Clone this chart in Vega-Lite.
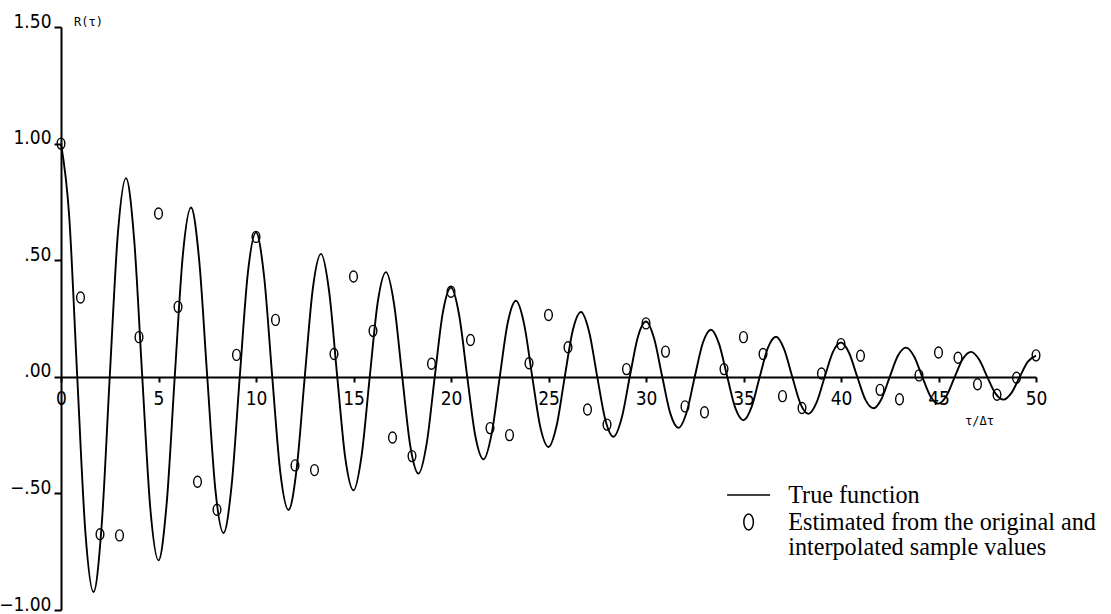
{
  "$schema": "https://vega.github.io/schema/vega-lite/v6.json",
  "autosize": {"type": "none"},
  "width": 975,
  "height": 583,
  "padding": {"left": 61, "top": 27, "right": 75, "bottom": 4},
  "background": "white",
  "config": {
    "view": {"stroke": null},
    "axis": {
      "grid": false,
      "domainColor": "black",
      "domainWidth": 2,
      "tickColor": "black",
      "tickWidth": 2,
      "labelColor": "black",
      "labelFont": "Liberation Sans Narrow, DejaVu Sans Condensed, DejaVu Sans Mono",
      "labelFontSize": 19,
      "labelFlush": false,
      "labelOverlap": false,
      "labelBound": false,
      "titleColor": "black",
      "titleFont": "DejaVu Sans Mono",
      "titleFontSize": 12,
      "titleFontWeight": "normal"
    }
  },
  "datasets": {
    "curve": [{"t":0,"r":1},{"t":0.417,"r":0.693},{"t":0.833,"r":0},{"t":1.25,"r":-0.666},{"t":1.667,"r":-0.923},{"t":2.083,"r":-0.64},{"t":2.5,"r":0},{"t":2.917,"r":0.615},{"t":3.333,"r":0.852},{"t":3.75,"r":0.591},{"t":4.167,"r":0},{"t":4.583,"r":-0.567},{"t":5,"r":-0.787},{"t":5.417,"r":-0.545},{"t":5.833,"r":0},{"t":6.25,"r":0.524},{"t":6.667,"r":0.726},{"t":7.083,"r":0.503},{"t":7.5,"r":0},{"t":7.917,"r":-0.484},{"t":8.333,"r":-0.67},{"t":8.75,"r":-0.465},{"t":9.167,"r":0},{"t":9.583,"r":0.446},{"t":10,"r":0.619},{"t":10.417,"r":0.429},{"t":10.833,"r":0},{"t":11.25,"r":-0.412},{"t":11.667,"r":-0.571},{"t":12.083,"r":-0.396},{"t":12.5,"r":0},{"t":12.917,"r":0.38},{"t":13.333,"r":0.527},{"t":13.75,"r":0.366},{"t":14.167,"r":0},{"t":14.583,"r":-0.351},{"t":15,"r":-0.487},{"t":15.417,"r":-0.337},{"t":15.833,"r":0},{"t":16.25,"r":0.324},{"t":16.667,"r":0.449},{"t":17.083,"r":0.311},{"t":17.5,"r":0},{"t":17.917,"r":-0.299},{"t":18.333,"r":-0.415},{"t":18.75,"r":-0.288},{"t":19.167,"r":0},{"t":19.583,"r":0.276},{"t":20,"r":0.383},{"t":20.417,"r":0.265},{"t":20.833,"r":0},{"t":21.25,"r":-0.255},{"t":21.667,"r":-0.354},{"t":22.083,"r":-0.245},{"t":22.5,"r":0},{"t":22.917,"r":0.235},{"t":23.333,"r":0.326},{"t":23.75,"r":0.226},{"t":24.167,"r":0},{"t":24.583,"r":-0.217},{"t":25,"r":-0.301},{"t":25.417,"r":-0.209},{"t":25.833,"r":0},{"t":26.25,"r":0.201},{"t":26.667,"r":0.278},{"t":27.083,"r":0.193},{"t":27.5,"r":0},{"t":27.917,"r":-0.185},{"t":28.333,"r":-0.257},{"t":28.75,"r":-0.178},{"t":29.167,"r":0},{"t":29.583,"r":0.171},{"t":30,"r":0.237},{"t":30.417,"r":0.164},{"t":30.833,"r":0},{"t":31.25,"r":-0.158},{"t":31.667,"r":-0.219},{"t":32.083,"r":-0.152},{"t":32.5,"r":0},{"t":32.917,"r":0.146},{"t":33.333,"r":0.202},{"t":33.75,"r":0.14},{"t":34.167,"r":0},{"t":34.583,"r":-0.134},{"t":35,"r":-0.186},{"t":35.417,"r":-0.129},{"t":35.833,"r":0},{"t":36.25,"r":0.124},{"t":36.667,"r":0.172},{"t":37.083,"r":0.119},{"t":37.5,"r":0},{"t":37.917,"r":-0.115},{"t":38.333,"r":-0.159},{"t":38.75,"r":-0.11},{"t":39.167,"r":0},{"t":39.583,"r":0.106},{"t":40,"r":0.147},{"t":40.417,"r":0.102},{"t":40.833,"r":0},{"t":41.25,"r":-0.098},{"t":41.667,"r":-0.135},{"t":42.083,"r":-0.094},{"t":42.5,"r":0},{"t":42.917,"r":0.09},{"t":43.333,"r":0.125},{"t":43.75,"r":0.087},{"t":44.167,"r":0},{"t":44.583,"r":-0.083},{"t":45,"r":-0.115},{"t":45.417,"r":-0.08},{"t":45.833,"r":0},{"t":46.25,"r":0.077},{"t":46.667,"r":0.107},{"t":47.083,"r":0.074},{"t":47.5,"r":0},{"t":47.917,"r":-0.071},{"t":48.333,"r":-0.098},{"t":48.75,"r":-0.068},{"t":49.167,"r":0},{"t":49.583,"r":0.065},{"t":50,"r":0.091}],
    "estimates": [{"t":0,"r":1.0},{"t":1,"r":0.34},{"t":2,"r":-0.675},{"t":3,"r":-0.68},{"t":4,"r":0.17},{"t":5,"r":0.7},{"t":6,"r":0.3},{"t":7,"r":-0.45},{"t":8,"r":-0.57},{"t":9,"r":0.094},{"t":10,"r":0.6},{"t":11,"r":0.244},{"t":12,"r":-0.38},{"t":13,"r":-0.4},{"t":14,"r":0.098},{"t":15,"r":0.43},{"t":16,"r":0.197},{"t":17,"r":-0.26},{"t":18,"r":-0.34},{"t":19,"r":0.056},{"t":20,"r":0.365},{"t":21,"r":0.158},{"t":22,"r":-0.22},{"t":23,"r":-0.25},{"t":24,"r":0.058},{"t":25,"r":0.265},{"t":26,"r":0.127},{"t":27,"r":-0.14},{"t":28,"r":-0.205},{"t":29,"r":0.033},{"t":30,"r":0.229},{"t":31,"r":0.108},{"t":32,"r":-0.127},{"t":33,"r":-0.152},{"t":34,"r":0.033},{"t":35,"r":0.17},{"t":36,"r":0.098},{"t":37,"r":-0.083},{"t":38,"r":-0.134},{"t":39,"r":0.014},{"t":40,"r":0.14},{"t":41,"r":0.09},{"t":42,"r":-0.056},{"t":43,"r":-0.096},{"t":44,"r":0.006},{"t":45,"r":0.104},{"t":46,"r":0.082},{"t":47,"r":-0.032},{"t":48,"r":-0.077},{"t":49,"r":-0.004},{"t":50,"r":0.092}]
  },
  "encoding": {
    "x": {
      "field": "t",
      "type": "quantitative",
      "scale": {"domain": [0, 50], "nice": false, "zero": false},
      "axis": {
        "values": [0, 5, 10, 15, 20, 25, 30, 35, 40, 45, 50],
        "format": "d",
        "offset": -233,
        "tickSize": 5,
        "labelPadding": 7,
        "title": "τ/Δτ",
        "titleX": 918,
        "titleY": 43,
        "titleAlign": "center",
        "titleBaseline": "middle"
      }
    },
    "y": {
      "field": "r",
      "type": "quantitative",
      "scale": {"domain": [-1, 1.5], "nice": false, "zero": false},
      "axis": {
        "values": [-1, -0.5, 0, 0.5, 1, 1.5],
        "labelExpr": "replace(format(datum.value, '.2f'), '0.', '.')",
        "tickSize": 7,
        "labelPadding": 3,
        "labelBaseline": "alphabetic",
        "title": "R(τ)",
        "titleAngle": 0,
        "titleX": 27,
        "titleY": -6,
        "titleAlign": "center",
        "titleBaseline": "middle"
      }
    }
  },
  "layer": [
    {
      "data": {"name": "curve"},
      "mark": {"type": "line", "interpolate": "monotone", "strokeWidth": 1.9},
      "encoding": {
        "color": {
          "datum": "True function",
          "type": "nominal",
          "scale": {
            "domain": ["True function", "Estimated from the original and interpolated sample values"],
            "range": ["black", "black"]
          },
          "legend": {
            "orient": "none",
            "legendX": 663.5,
            "legendY": 456,
            "title": null,
            "padding": 0,
            "symbolSize": 1849,
            "symbolOffset": 12,
            "clipHeight": 24,
            "rowPadding": 1,
            "labelFont": "Liberation Serif",
            "labelFontSize": 24.2,
            "labelColor": "black",
            "labelOffset": 27.5,
            "labelLimit": 0,
            "labelBaseline": "top",
            "labelExpr": "split(replace(datum.label, 'original and ', 'original and|'), '|')",
            "encode": {
              "symbols": {
                "update": {
                  "shape": {"signal": "datum.value === 'True function' ? 'stroke' : 'M0,-1A0.6,1 0 1,1 0,1A0.6,1 0 1,1 0,-1Z'"},
                  "size": {"signal": "datum.value === 'True function' ? 1849 : 256"},
                  "stroke": {"value": "black"},
                  "fill": {"value": "transparent"},
                  "strokeWidth": {"value": 1.5},
                  "opacity": {"value": 1}
                }
              },
              "labels": {"update": {"dy": {"value": -11}, "lineHeight": {"value": 25}}}
            }
          }
        }
      }
    },
    {
      "data": {"name": "estimates"},
      "mark": {
        "type": "point",
        "shape": "M0,-1A0.7,1 0 1,1 0,1A0.7,1 0 1,1 0,-1Z",
        "size": 121,
        "filled": false,
        "strokeWidth": 1.4,
        "opacity": 1
      },
      "encoding": {
        "color": {
          "datum": "Estimated from the original and interpolated sample values",
          "type": "nominal",
          "scale": {
            "domain": ["True function", "Estimated from the original and interpolated sample values"],
            "range": ["black", "black"]
          }
        }
      }
    }
  ]
}
